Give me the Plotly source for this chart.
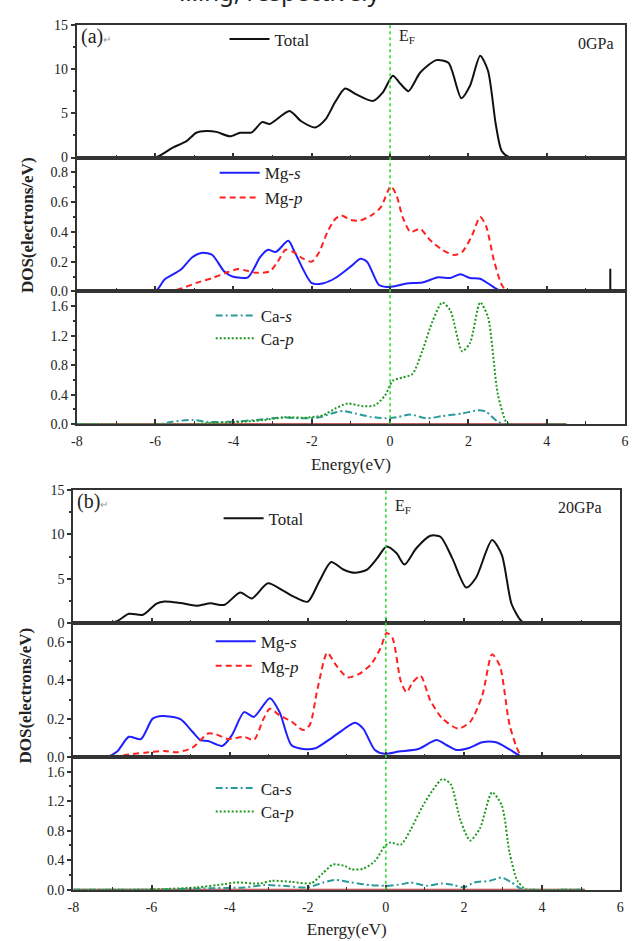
import plotly.graph_objects as go

W, H = 632, 941

# ---------------- data: panel (a) 0 GPa ----------------
E_tot_a = [-8, -6.0, -5.56, -5.2, -4.95, -4.69, -4.44, -4.09, -3.83, -3.53, -3.27, -3.07, -2.57, -2.27, -1.91, -1.65,
           -1.4, -1.15, -0.89, -0.44, -0.18, 0.07, 0.27, 0.47, 0.77, 1.18, 1.49, 1.82, 2.04, 2.30, 2.5, 2.7, 2.85, 3.05, 4.5]
tot_a = [0, 0, 1.1, 1.85, 2.8, 3.0, 2.9, 2.4, 2.8, 2.85, 4.0, 3.8, 5.25, 4.1, 3.4, 4.3,
         6.3, 7.8, 7.2, 6.4, 7.4, 9.25, 8.3, 7.5, 9.6, 11.0, 10.7, 6.7, 8.1, 11.5, 9.8, 3.7, 0.75, 0.05, 0]

E_mgs_a = [-8, -6.0, -5.76, -5.35, -5.05, -4.79, -4.54, -4.24, -4.03, -3.63, -3.32, -3.12, -2.92, -2.6, -2.42, -2.0,
           -1.70, -1.40, -0.995, -0.76, -0.59, -0.29, -0.09, 0.12, 0.42, 0.82, 1.23, 1.54, 1.79, 2.04, 2.30, 2.55, 2.8, 3.0, 4.5]
mgs_a = [0, 0, 0.08, 0.145, 0.23, 0.26, 0.245, 0.135, 0.1, 0.095, 0.23, 0.28, 0.265, 0.34, 0.255, 0.055,
         0.055, 0.09, 0.17, 0.22, 0.2, 0.045, 0.03, 0.035, 0.053, 0.06, 0.095, 0.09, 0.115, 0.09, 0.085, 0.045, 0.005, 0, 0]

E_mgp_a = [-8, -5.66, -5.35, -4.95, -4.54, -4.14, -3.88, -3.68, -3.43, -3.07, -2.87, -2.67, -2.47, -2.22, -2.0, -1.81,
           -1.60, -1.40, -1.25, -0.995, -0.79, -0.49, -0.24, 0.02, 0.17, 0.32, 0.52, 0.77, 1.02, 1.33, 1.64, 1.84, 2.09,
           2.30, 2.45, 2.65, 2.85, 3.0, 4.5]
mgp_a = [0, 0, 0.018, 0.057, 0.09, 0.13, 0.15, 0.14, 0.125, 0.135, 0.2, 0.28, 0.265, 0.22, 0.2, 0.265,
         0.4, 0.487, 0.51, 0.48, 0.475, 0.51, 0.565, 0.707, 0.64, 0.5, 0.4, 0.42, 0.345, 0.28, 0.245, 0.265, 0.375,
         0.5, 0.44, 0.21, 0.045, 0.0, 0]

E_cas_a = [-8, -5.9, -5.56, -5.05, -4.64, -4.03, -3.43, -2.72, -2.22, -1.81, -1.50, -1.2, -0.89, -0.49, -0.09, 0.22,
           0.52, 0.92, 1.33, 1.84, 2.25, 2.45, 2.75, 2.95, 4.5]
cas_a = [0, 0, 0.035, 0.058, 0.03, 0.035, 0.058, 0.093, 0.08, 0.093, 0.146, 0.18, 0.146, 0.1, 0.08, 0.1,
         0.133, 0.08, 0.11, 0.146, 0.19, 0.17, 0.035, 0, 0]

E_cap_a = [-8, -5.0, -4.74, -3.73, -3.22, -2.72, -2.11, -1.70, -1.40, -1.09, -0.69, -0.39, -0.13, 0.07, 0.32, 0.57,
           0.82, 1.08, 1.33, 1.54, 1.84, 2.04, 2.30, 2.50, 2.75, 2.96, 3.05, 4.5]
cap_a = [0, 0, 0.013, 0.035, 0.058, 0.093, 0.09, 0.124, 0.213, 0.28, 0.244, 0.257, 0.39, 0.59, 0.634, 0.68,
         0.99, 1.39, 1.65, 1.54, 0.99, 1.1, 1.65, 1.45, 0.41, 0.035, 0, 0]

# ---------------- data: panel (b) 20 GPa ----------------
E_tot_b = [-8, -7.19, -6.88, -6.58, -6.22, -5.87, -5.67, -5.26, -4.85, -4.49, -4.14, -3.73, -3.43, -3.02, -2.62, -2.32,
           -2.0, -1.70, -1.40, -1.09, -0.79, -0.48, -0.23, 0.02, 0.27, 0.48, 0.78, 1.14, 1.40, 1.70, 2.06, 2.31, 2.72,
           2.97, 3.22, 3.47, 3.6, 5.1]
tot_b = [0, 0, 0.22, 1.04, 0.93, 2.2, 2.44, 2.26, 1.96, 2.22, 2.04, 3.44, 2.78, 4.48, 3.63, 2.89,
         2.4, 4.74, 6.89, 6.04, 5.67, 6.04, 7.26, 8.63, 7.9, 6.6, 8.44, 9.85, 9.74, 7.33, 4.0, 5.11, 9.37,
         7.7, 2.15, 0.22, 0, 0]

E_mgs_b = [-8, -7.14, -6.88, -6.58, -6.27, -5.97, -5.72, -5.26, -4.95, -4.75, -4.55, -4.19, -3.94, -3.63, -3.38, -2.97,
           -2.72, -2.42, -2.12, -1.80, -1.40, -0.99, -0.79, -0.58, -0.28, -0.03, 0.33, 0.83, 1.30, 1.55, 1.80, 2.11,
           2.47, 2.82, 3.12, 3.47, 3.6, 5.1]
mgs_b = [0, 0, 0.028, 0.105, 0.093, 0.2, 0.214, 0.197, 0.131, 0.088, 0.083, 0.057, 0.114, 0.234, 0.209, 0.307,
         0.234, 0.062, 0.041, 0.045, 0.097, 0.157, 0.179, 0.148, 0.036, 0.016, 0.028, 0.041, 0.088, 0.062, 0.036, 0.045,
         0.076, 0.076, 0.045, 0.002, 0, 0]

E_mgp_b = [-8, -6.93, -6.68, -6.17, -5.67, -5.36, -4.95, -4.55, -4.34, -4.04, -3.63, -3.38, -3.13, -2.97, -2.72, -2.42,
           -2.12, -1.95, -1.75, -1.50, -1.29, -0.98, -0.69, -0.38, -0.13, 0.02, 0.17, 0.38, 0.53, 0.69, 0.89, 1.14,
           1.45, 1.85, 2.16, 2.47, 2.72, 2.92, 3.17, 3.42, 3.55, 5.1]
mgp_b = [0, 0, 0.01, 0.022, 0.031, 0.024, 0.048, 0.122, 0.117, 0.093, 0.105, 0.088, 0.2, 0.252, 0.217, 0.186,
         0.14, 0.166, 0.355, 0.545, 0.484, 0.416, 0.433, 0.484, 0.571, 0.648, 0.622, 0.398, 0.338, 0.39, 0.424, 0.295,
         0.2, 0.148, 0.183, 0.321, 0.536, 0.476, 0.166, 0.019, 0, 0]

E_cas_b = [-8, -6.0, -4.65, -3.63, -3.13, -2.62, -2.0, -1.60, -1.29, -0.89, -0.38, 0.02, 0.43, 0.63, 1.04, 1.45,
           1.75, 2.0, 2.26, 2.66, 2.97, 3.22, 3.47, 3.6, 5.1]
cas_b = [0, 0, 0.018, 0.031, 0.062, 0.053, 0.031, 0.098, 0.133, 0.098, 0.062, 0.053, 0.076, 0.098, 0.053, 0.084,
         0.062, 0.031, 0.098, 0.12, 0.164, 0.098, 0.009, 0, 0]

E_cap_b = [-8, -6.5, -5.67, -4.85, -4.13, -3.83, -3.23, -2.92, -2.42, -1.90, -1.60, -1.35, -1.04, -0.89, -0.58, -0.28,
           -0.03, 0.12, 0.38, 0.63, 0.93, 1.19, 1.45, 1.66, 1.91, 2.16, 2.41, 2.72, 2.97, 3.17, 3.37, 3.57, 3.7, 5.1]
cap_b = [0, 0, 0.009, 0.031, 0.076, 0.098, 0.084, 0.12, 0.107, 0.089, 0.231, 0.342, 0.32, 0.276, 0.284, 0.387,
         0.587, 0.64, 0.609, 0.809, 1.12, 1.34, 1.5, 1.43, 0.942, 0.667, 0.831, 1.32, 1.14, 0.498, 0.12, 0.009, 0, 0]

# zero-valued baseline traces in the Ca panels
E_base_a = [-8, 4.5]
base_a = [0, 0]
E_base_b = [-8, 5.1]
base_b = [0, 0]

x_tickvals = [-8, -6, -4, -2, 0, 2, 4, 6]
x_ticktext = ["-8", "-6", "-4", "-2", "0", "2", "4", "6"]

SERIF = "Liberation Serif"
FRAME = "#333333"

fig = go.Figure()

def py(p):
    return 1 - p / H

def px(p):
    return p / W

panels = [
    dict(x0=72, x1=629, rows=[(18, 153), (153, 289), (289, 424)], ranges=[[0, 15], [0, 0.9], [0, 1.8]],
         dticks=[5, 0.2, 0.4], minors=[2.5, 0.1, 0.2], fmts=["d", ".1f", ".1f"]),
    dict(x0=68.5, x1=624, rows=[(491, 626), (626, 762), (762, 897)], ranges=[[0, 15], [0, 0.7], [0, 1.8]],
         dticks=[5, 0.2, 0.4], minors=[2.5, 0.1, 0.2], fmts=["d", ".1f", ".1f"]),
]

layout_axes = {}
k = 0
for pi, p in enumerate(panels):
    for ri, (t, b) in enumerate(p["rows"]):
        k += 1
        xn = "xaxis" if k == 1 else f"xaxis{k}"
        yn = "yaxis" if k == 1 else f"yaxis{k}"
        xa = "x" if k == 1 else f"x{k}"
        ya = "y" if k == 1 else f"y{k}"
        bottom = ri == 2
        ax = dict(
            domain=[px(p["x0"]), px(p["x1"])], anchor=ya, range=[-8, 6],
            tickmode="array", tickvals=x_tickvals, ticktext=x_ticktext,
            showticklabels=bottom, ticks="inside", ticklen=5, tickwidth=1.5, tickcolor=FRAME,
            minor=dict(ticks="inside", ticklen=3, dtick=1, tick0=-8, tickcolor=FRAME, tickwidth=1.2),
            showline=True, linecolor=FRAME, linewidth=2, mirror=True, showgrid=False, zeroline=False,
            tickfont=dict(family=SERIF, size=14, color="#222"), ticklabelstandoff=3,
        )
        if bottom:
            ax["title"] = dict(text="Energy(eV)", font=dict(family=SERIF, size=17, color="#222"), standoff=10)
        layout_axes[xn] = ax
        layout_axes[yn] = dict(
            domain=[py(b), py(t)], anchor=xa, range=p["ranges"][ri],
            dtick=p["dticks"][ri], tick0=0, tickformat=p["fmts"][ri],
            ticks="outside", ticklen=4, tickwidth=1.5, tickcolor=FRAME,
            minor=dict(ticks="outside", ticklen=2, dtick=p["minors"][ri], tickcolor=FRAME),
            showline=True, linecolor=FRAME, linewidth=2, mirror=True, showgrid=False, zeroline=False,
            tickfont=dict(family=SERIF, size=14, color="#222"),
        )

def add(x, y, k, color, dash, name, legend, width=2, show=True):
    xa = "x" if k == 1 else f"x{k}"
    ya = "y" if k == 1 else f"y{k}"
    fig.add_trace(go.Scatter(x=x, y=y, xaxis=xa, yaxis=ya, mode="lines", name=name,
                             line=dict(color=color, width=width, dash=dash, shape="spline", smoothing=0.7),
                             legend=legend, showlegend=show, cliponaxis=True))

BLUE = "#2020ff"
RED = "#ff2020"
TEAL = "#2a9a9a"
GREEN = "#1e9a1e"
DARKRED = "#b02a2a"

# panel a
add(E_tot_a, tot_a, 1, "#111111", "solid", "Total", "legend")
add(E_base_a, base_a, 3, DARKRED, "solid", "base", "legend", show=False)
add(E_mgs_a, mgs_a, 2, BLUE, "solid", "Mg-<i>s</i>", "legend2")
add(E_mgp_a, mgp_a, 2, RED, "6px,4px", "Mg-<i>p</i>", "legend3")
add(E_cas_a, cas_a, 3, TEAL, "7px,3px,2px,3px", "Ca-<i>s</i>", "legend4")
add(E_cap_a, cap_a, 3, GREEN, "2px,2px", "Ca-<i>p</i>", "legend5")
# panel b
add(E_tot_b, tot_b, 4, "#111111", "solid", "Total", "legend6")
add(E_base_b, base_b, 6, DARKRED, "solid", "base", "legend6", show=False)
add(E_mgs_b, mgs_b, 5, BLUE, "solid", "Mg-<i>s</i>", "legend7")
add(E_mgp_b, mgp_b, 5, RED, "6px,4px", "Mg-<i>p</i>", "legend8")
add(E_cas_b, cas_b, 6, TEAL, "7px,3px,2px,3px", "Ca-<i>s</i>", "legend9")
add(E_cap_b, cap_b, 6, GREEN, "2px,2px", "Ca-<i>p</i>", "legend10")

def leg(xp, yp):
    return dict(x=px(xp), y=py(yp), xanchor="left", yanchor="middle", bgcolor="rgba(0,0,0,0)",
                font=dict(family=SERIF, size=17, color="#222"), itemwidth=40, tracegroupgap=0)

layout_legends = dict(
    legend=leg(222, 33),
    legend2=leg(212, 169),
    legend3=leg(212, 194),
    legend4=leg(208, 314),
    legend5=leg(208, 337),
    legend6=leg(216, 520),
    legend7=leg(208, 645),
    legend8=leg(208, 670),
    legend9=leg(208, 794),
    legend10=leg(208, 818),
)

shapes = []
for k_top, xa in [(1, "x"), (4, "x4")]:
    p = panels[0] if k_top == 1 else panels[1]
    shapes.append(dict(type="line", xref=xa, yref="paper", x0=0, x1=0,
                       y0=py(p["rows"][2][1]), y1=py(p["rows"][0][0]),
                       line=dict(color="#33dd33", width=1.6, dash="dot")))
# stray cursor mark in panel (a)
shapes.append(dict(type="line", xref="paper", yref="paper", x0=px(614), x1=px(614), y0=py(287), y1=py(266),
                   line=dict(color="#111", width=2)))

annotations = [
    # clipped caption line at the very top of the page
    dict(text="…ing, respectively", x=px(382), y=py(3), xref="paper", yref="paper", xanchor="right",
         yanchor="bottom", showarrow=False, font=dict(family="Noto Sans", size=24, color="#222")),
    dict(text="(a)<span style='font-size:10px;color:#999'>↵</span>", x=px(74), y=py(30), xref="paper", yref="paper",
         xanchor="left", yanchor="middle", showarrow=False, font=dict(family=SERIF, size=20, color="#222")),
    dict(text="(b)<span style='font-size:10px;color:#999'>↵</span>", x=px(70), y=py(503), xref="paper", yref="paper",
         xanchor="left", yanchor="middle", showarrow=False, font=dict(family=SERIF, size=20, color="#222")),
    dict(text="E<sub>F</sub>", x=px(397), y=py(30), xref="paper", yref="paper", xanchor="left", yanchor="middle",
         showarrow=False, font=dict(family=SERIF, size=16, color="#222")),
    dict(text="E<sub>F</sub>", x=px(393), y=py(508), xref="paper", yref="paper", xanchor="left", yanchor="middle",
         showarrow=False, font=dict(family=SERIF, size=16, color="#222")),
    dict(text="0GPa", x=px(620), y=py(37), xref="paper", yref="paper", xanchor="right", yanchor="middle",
         showarrow=False, font=dict(family=SERIF, size=16, color="#222")),
    dict(text="20GPa", x=px(608), y=py(509), xref="paper", yref="paper", xanchor="right", yanchor="middle",
         showarrow=False, font=dict(family=SERIF, size=16, color="#222")),
    dict(text="<b>DOS(electrons/eV)</b>", x=px(22), y=py(222), xref="paper", yref="paper", textangle=-90,
         xanchor="center", yanchor="middle", showarrow=False, font=dict(family=SERIF, size=17, color="#222")),
    dict(text="<b>DOS(electrons/eV)</b>", x=px(20), y=py(700), xref="paper", yref="paper", textangle=-90,
         xanchor="center", yanchor="middle", showarrow=False, font=dict(family=SERIF, size=17, color="#222")),
]

fig.update_layout(
    width=W, height=H, margin=dict(l=0, r=0, t=0, b=0), paper_bgcolor="white", plot_bgcolor="white",
    annotations=annotations, shapes=shapes, **layout_axes, **layout_legends,
)

fig.write_html("out.html")
